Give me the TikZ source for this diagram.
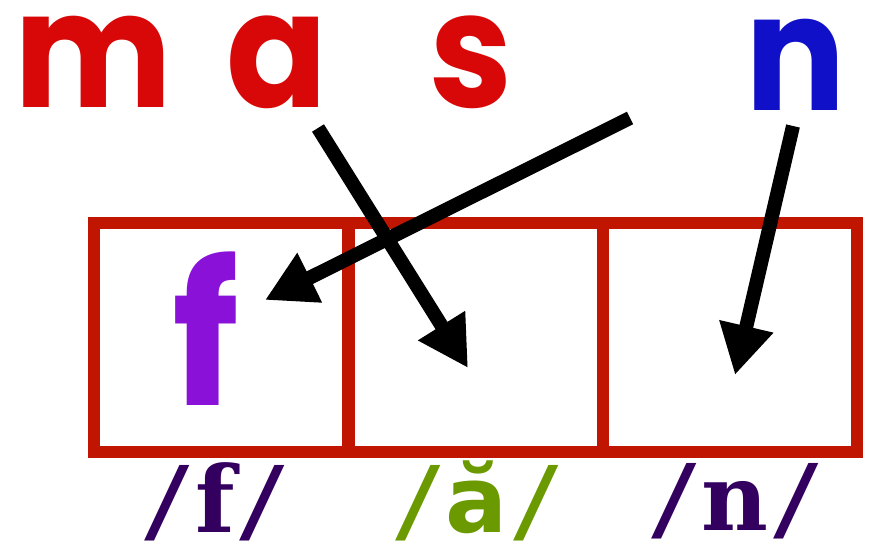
\documentclass[tikz,border=0pt]{standalone}
\usepackage{fontspec}
\usetikzlibrary{arrows.meta}
\newfontfamily\popf{Poppins}
\newfontfamily\slashf{DejaVu Sans Mono}
\newfontfamily\slabf{DejaVu Serif}
\newfontfamily\sansf{DejaVu Sans}
\definecolor{boxred}{HTML}{C01500}
\definecolor{letred}{HTML}{D80808}
\definecolor{letblue}{HTML}{1010C8}
\definecolor{letpurple}{HTML}{8A12D8}
\definecolor{ipapurple}{HTML}{33005F}
\definecolor{ipagreen}{HTML}{6A9A00}
\newcommand{\ipaslash}{{\slashf\bfseries /}}
\tikzset{
  bigletter/.style={inner sep=0pt, font=\popf\bfseries\fontsize{162}{162}\selectfont, xscale=0.92},
  cellbox/.style={draw=boxred, line width=12pt, minimum width=254pt, minimum height=229pt, inner sep=0pt},
  ipa/.style={inner sep=0pt, font=\bfseries\fontsize{92}{92}\selectfont},
  maparrow/.style={line width=14pt, -{Triangle[length=50pt, width=52pt]}}
}
\begin{document}
\begin{tikzpicture}[x=1pt, y=-1pt]
\useasboundingbox (0,0) rectangle (873,548);
% cells
\node[cellbox] (b1) at (221,337.5) {};
\node[cellbox] (b2) at (476,337.5) {};
\node[cellbox] (b3) at (730,337.5) {};
% top letters
\node[bigletter, text=letred] (m) at (93,62) {m};
\node[bigletter, text=letred] (a) at (277,62) {a};
\node[bigletter, text=letred] (s) at (471,62) {s};
\node[bigletter, text=letblue] (n) at (796,65) {n};
% letter in first cell
\node[inner sep=0pt, font=\popf\bfseries\fontsize{196}{196}\selectfont, text=letpurple, xscale=0.95] (f) at (206,329) {f};
% IPA labels
\node[ipa, text=ipapurple] (pf) at (215,502) {\ipaslash{\slabf\bfseries f}\ipaslash};
\node[ipa, text=ipagreen] (pa) at (477,501) {\ipaslash{\sansf\bfseries ă}\ipaslash};
\node[ipa, text=ipapurple] (pn) at (735,501) {\ipaslash{\slabf\bfseries n}\ipaslash};
% arrow ends
\coordinate (t1) at (318,128);
\coordinate (h1) at (468,368);
\coordinate (t2) at (630,118);
\coordinate (h2) at (265,300);
\coordinate (t3) at (793,126);
\coordinate (h3) at (735,375);
\draw[maparrow] (t1) -- (h1);
\draw[maparrow] (t2) -- (h2);
\draw[maparrow] (t3) -- (h3);
\end{tikzpicture}
\end{document}
